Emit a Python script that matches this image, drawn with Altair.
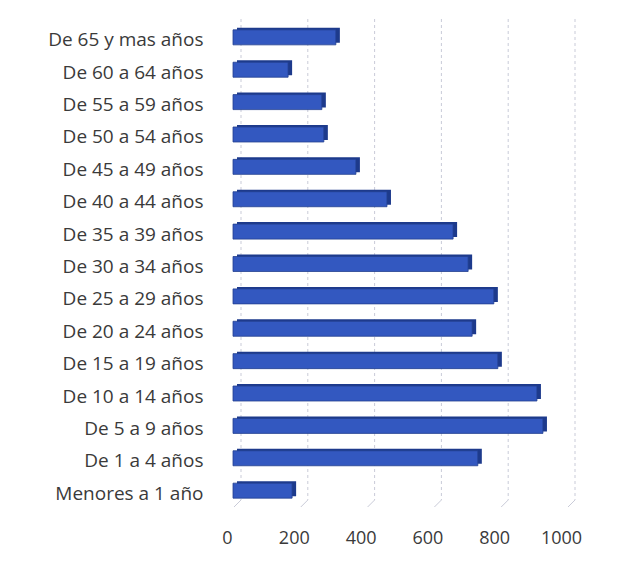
import altair as alt
import pandas as pd

categories = [
    "De 65 y mas años", "De 60 a 64 años", "De 55 a 59 años", "De 50 a 54 años",
    "De 45 a 49 años", "De 40 a 44 años", "De 35 a 39 años", "De 30 a 34 años",
    "De 25 a 29 años", "De 20 a 24 años", "De 15 a 19 años", "De 10 a 14 años",
    "De 5 a 9 años", "De 1 a 4 años", "Menores a 1 año",
]
values = [308, 165, 266, 272, 368, 461, 659, 704, 781, 716, 793, 910, 928, 733, 177]
ticks = [0, 200, 400, 600, 800, 1000]

df = pd.DataFrame({"cat": categories, "val": values})
grid_df = pd.DataFrame({"t": ticks})

xscale = alt.Scale(domain=[0, 1000], nice=False)
yscale = alt.Scale(domain=categories, paddingInner=0.53, paddingOuter=0.27)

FONT = "Open Sans"
xaxis = alt.Axis(values=ticks, format="d", title=None, domain=False, ticks=False, grid=False,
                 labelFont=FONT, labelFontSize=18, labelColor="#3a3a3a",
                 labelPadding=22, labelFlush=False)
yaxis = alt.Axis(title=None, domain=False, ticks=False, grid=False,
                 labelFont=FONT, labelFontSize=19, labelColor="#3a3a3a",
                 labelPadding=24, labelLimit=300, labelOffset=3)

grid = alt.Chart(grid_df).mark_rule(
    color="#c9cbd8", strokeDash=[3, 3], strokeWidth=1, xOffset=14
).encode(
    x=alt.X("t:Q", scale=xscale, axis=xaxis),
    y=alt.value(-2),
    y2=alt.value(479),
)

floor = alt.Chart(grid_df).mark_rule(
    color="#c9cbd8", strokeWidth=1, xOffset=14, x2Offset=7
).encode(
    x=alt.X("t:Q", scale=xscale, axis=xaxis),
    x2="t:Q",
    y=alt.value(479),
    y2=alt.value(486),
)

side = alt.Chart(df).mark_bar(
    color="#1d3a8c", size=15, xOffset=10, x2Offset=6, yOffset=-2
).encode(
    x=alt.X("val:Q", scale=xscale, axis=xaxis),
    y=alt.Y("cat:N", scale=yscale, sort=categories, axis=yaxis),
)

front = alt.Chart(df).mark_bar(
    color="#3358c0", size=15, stroke="#23408f", strokeWidth=0.8, xOffset=6, x2Offset=6
).encode(
    x=alt.X("val:Q", scale=xscale, axis=xaxis),
    y=alt.Y("cat:N", scale=yscale, sort=categories, axis=yaxis),
)

chart = alt.layer(grid, floor, side, front).properties(
    width=334, height=486,
    autosize=alt.AutoSizeParams(type="none"),
    padding={"left": 227, "top": 21, "right": 62, "bottom": 67},
).configure(background="white").configure_view(stroke=None)

chart.save("out.html", embed_options={"renderer": "svg", "actions": False})
